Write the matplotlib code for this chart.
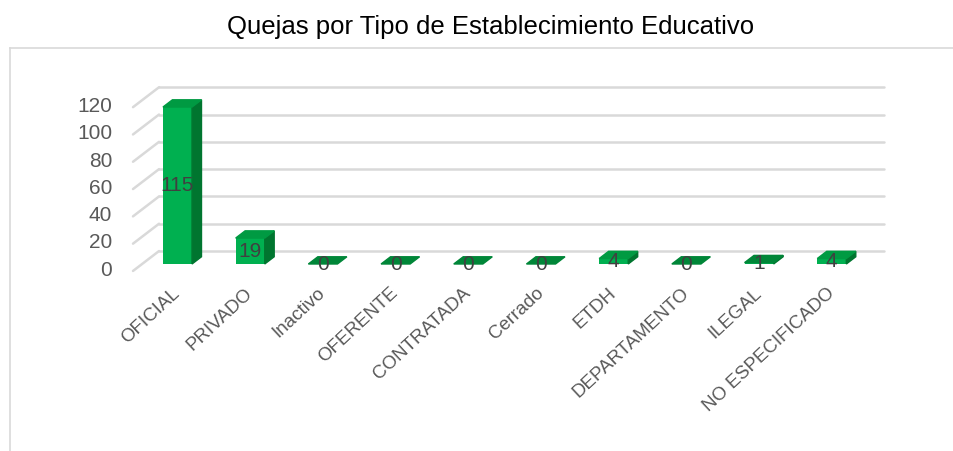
import matplotlib
matplotlib.use("Agg")
import matplotlib.pyplot as plt
from matplotlib import font_manager
from matplotlib.patches import Polygon
from matplotlib.lines import Line2D

# datos del grafico
titulo = "Quejas por Tipo de Establecimiento Educativo"
categorias = ["OFICIAL", "PRIVADO", "Inactivo", "OFERENTE", "CONTRATADA",
              "Cerrado", "ETDH", "DEPARTAMENTO", "ILEGAL", "NO ESPECIFICADO"]
quejas = [115, 19, 0, 0, 0, 0, 4, 0, 1, 4]
ticks_y = [0, 20, 40, 60, 80, 100, 120]

# fuente tipo Arial Narrow si esta disponible
nombres = {f.name for f in font_manager.fontManager.ttflist}
fuente = "Liberation Sans Narrow" if "Liberation Sans Narrow" in nombres else "Liberation Sans"
plt.rcParams["font.family"] = [fuente, "DejaVu Sans"]

W, H = 954, 451
fig = plt.figure(figsize=(W / 100, H / 100), dpi=100)
ax = fig.add_axes([0, 0, 1, 1])
ax.axis("off")

# escala: categoria -> pixel x, valor -> pixel y (desde arriba)
px0, pxs = 177.5, 72.7
py0, pys = 264.0, 1.365
ax.set_xlim((0 - px0) / pxs, (W - px0) / pxs)
ax.set_ylim((py0 - H) / pys, py0 / pys)

# efecto 3D: plano del fondo y plano frontal
back_dy = 9.5
front_dy = -5.1
grid_x0, grid_x1 = -0.254, 9.717
front_x = -0.612
grid_color = "#d9d9d9"

for v in ticks_y:
    ax.plot([grid_x0, grid_x1], [v + back_dy, v + back_dy], color=grid_color, lw=1.8,
            solid_capstyle="round", zorder=1)
    ax.plot([front_x, grid_x0], [v + front_dy, v + back_dy], color=grid_color, lw=1.8,
            solid_capstyle="round", zorder=1)
    ax.text(-0.90, v - 4.6, str(v), ha="right", va="center", fontsize=15, color="#595959")

# barras con caras lateral y superior
width = 0.4
dx, dy = 0.13, 5.3
c_front, c_side, c_top, c_flat = "#00b050", "#00752f", "#009a42", "#008638"
x = list(range(len(categorias)))

ax.bar(x, quejas, width=width, color=c_front, zorder=3)
for i, v in zip(x, quejas):
    l, r = i - width / 2, i + width / 2
    if v > 0:
        ax.add_patch(Polygon([(r, 0), (r + dx, dy), (r + dx, v + dy), (r, v)],
                             closed=True, color=c_side, zorder=3))
    top = c_top if v > 1 else c_flat
    ax.add_patch(Polygon([(l, v), (r, v), (r + dx, v + dy), (l + dx, v + dy)],
                         closed=True, color=top, zorder=3))
    ax.text(i, v / 2, str(v), ha="center", va="center", fontsize=15, color="#404040", zorder=5)
    ax.text(i - 0.08, -15, categorias[i], rotation=43, rotation_mode="anchor",
            ha="right", va="top", fontsize=13.5, color="#595959")

# titulo y marco
fig.text(491 / W, 1 - 27 / H, titulo, ha="center", va="center", fontsize=18.5, color="black")
fy = 1 - 48 / H
fig.add_artist(Line2D([10 / W, 1], [fy, fy], color=grid_color, lw=1.2))
fig.add_artist(Line2D([10 / W, 10 / W], [fy, 0], color=grid_color, lw=1.2))

fig.savefig("out.png", dpi=100)
